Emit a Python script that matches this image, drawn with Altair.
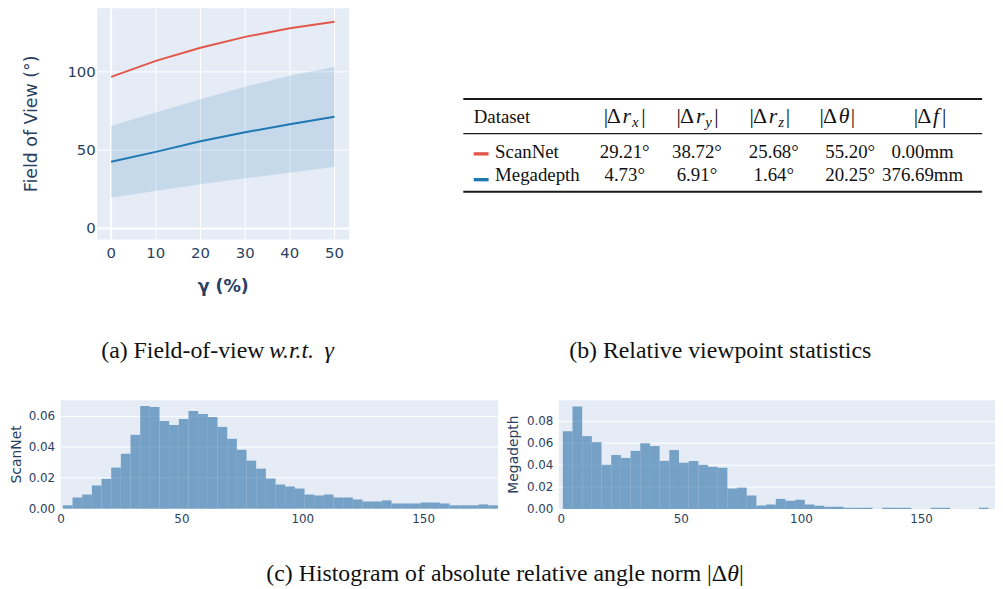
import altair as alt
import pandas as pd

# ======================= DATA =======================
# (a) Field of view w.r.t. gamma
gamma_pct = [0, 10, 20, 30, 40, 50]
fov_scannet = [96.8, 107.0, 115.4, 122.3, 127.8, 132.0]
fov_megadepth_mean = [42.6, 48.9, 55.7, 61.4, 66.6, 71.3]
fov_megadepth_low = [19.8, 24.0, 28.3, 32.0, 35.6, 39.4]
fov_megadepth_high = [65.4, 74.0, 82.5, 90.5, 97.5, 103.2]
fov_x_ticks = [0, 10, 20, 30, 40, 50]
fov_y_ticks = [0, 50, 100]
fov_x_title = "γ (%)"
fov_y_title = "Field of View (°)"

# (b) Relative viewpoint statistics
datasets = ["ScanNet", "Megadepth"]
dataset_colors = ["#e3574a", "#1f77b4"]
stat_rx = ["29.21°", "4.73°"]
stat_ry = ["38.72°", "6.91°"]
stat_rz = ["25.68°", "1.64°"]
stat_theta = ["55.20°", "20.25°"]
stat_f = ["0.00mm", "376.69mm"]
first_header = ["Dataset"]

# (c) Histograms of |Δθ|
scannet_density = [0.0022, 0.0073, 0.0092, 0.0151, 0.0194, 0.0267, 0.0357, 0.0480, 0.0667, 0.0660,
                   0.0570, 0.0544, 0.0583, 0.0634, 0.0615, 0.0596, 0.0531, 0.0454, 0.0383, 0.0312,
                   0.0260, 0.0196, 0.0157, 0.0144, 0.0131, 0.0092, 0.0086, 0.0092, 0.0073, 0.0073,
                   0.0060, 0.0047, 0.0047, 0.0054, 0.0034, 0.0034, 0.0034, 0.0040, 0.0040, 0.0034,
                   0.0022, 0.0022, 0.0022, 0.0028, 0.0022]
scannet_bin_start, scannet_bin_width = 0.74, 4.0
megadepth_density = [0.0710, 0.0935, 0.0665, 0.0610, 0.0403, 0.0493, 0.0466, 0.0530, 0.0600, 0.0574,
                     0.0439, 0.0538, 0.0421, 0.0439, 0.0403, 0.0385, 0.0376, 0.0186, 0.0195, 0.0123,
                     0.0032, 0.0041, 0.0092, 0.0075, 0.0084, 0.0040, 0.0030, 0.0020, 0.0020, 0.0011,
                     0.0011, 0.0011, 0.0, 0.0011, 0.0011, 0.0011, 0.0, 0.0, 0.0011, 0.0011,
                     0.0, 0.0, 0.0, 0.0011]
megadepth_bin_start, megadepth_bin_width = 0.66, 4.03
hist_x_ticks = [0, 50, 100, 150]
scannet_y_ticks = [0, 0.02, 0.04, 0.06]
megadepth_y_ticks = [0, 0.02, 0.04, 0.06, 0.08]

captions = ["(a) Field-of-view ", "w.r.t.", "γ",
            "(b) Relative viewpoint statistics",
            "(c) Histogram of absolute relative angle norm |Δ", "θ", "|"]

# ======================= LAYOUT / STYLE =======================
W, H = 995, 581          # whole canvas (page margin is 8px)
def px(v):               # reference pixel -> chart pixel
    return v - 8
def py(v):
    return v - 8

PLOT_BG = "#E5ECF6"
TXT = "#2a3f5f"
SANS = "DejaVu Sans"
SERIF = "Liberation Serif"
BLUE = "#1f77b4"
RED = dataset_colors[0]


def lin(domain, rng):
    return alt.Scale(domain=domain, range=rng, nice=False, zero=False)


one = pd.DataFrame({"k": [0]})


def background(xs, ys, xdom, ydom):
    return alt.Chart(one).mark_rect(color=PLOT_BG).encode(
        x=alt.X(datum=xdom[0], type="quantitative", scale=xs, axis=None),
        x2=alt.X2(datum=xdom[1]),
        y=alt.Y(datum=ydom[0], type="quantitative", scale=ys, axis=None),
        y2=alt.Y2(datum=ydom[1]),
    )


def x_tick_labels(ticks, xs, ys, ydom, size, pad, fmt):
    return alt.Chart(pd.DataFrame({"t": ticks})).transform_calculate(
        lab=f"format(datum.t, '{fmt}')"
    ).mark_text(font=SANS, fontSize=size, color=TXT, align="center", baseline="top", dy=pad).encode(
        x=alt.X("t:Q", scale=xs, axis=None),
        y=alt.Y(datum=ydom[0], type="quantitative", scale=ys, axis=None),
        text="lab:N",
    )


def y_tick_labels(ticks, xs, ys, xdom, size, pad, fmt):
    return alt.Chart(pd.DataFrame({"t": ticks})).transform_calculate(
        lab=f"format(datum.t, '{fmt}')"
    ).mark_text(font=SANS, fontSize=size, color=TXT, align="right", baseline="middle", dx=-pad).encode(
        y=alt.Y("t:Q", scale=ys, axis=None),
        x=alt.X(datum=xdom[0], type="quantitative", scale=xs, axis=None),
        text="lab:N",
    )


def title_text(text, x, y, size, angle=0, weight="normal"):
    return alt.Chart(pd.DataFrame({"t": [text]})).mark_text(
        font=SANS, fontSize=size, color=TXT, align="center", baseline="middle",
        angle=angle, fontWeight=weight,
    ).encode(x=alt.value(px(x)), y=alt.value(py(y)), text="t:N")


# ---------------- (a) line chart ----------------
A_XDOM = [-3.1, 53.3]
A_YDOM = [-7.0, 140.5]
xa = lin(A_XDOM, [px(98), px(352)])
ya = lin(A_YDOM, [py(239), py(6)])

fov_df = pd.DataFrame({
    "gamma": gamma_pct, "scannet": fov_scannet, "mean": fov_megadepth_mean,
    "low": fov_megadepth_low, "high": fov_megadepth_high,
})
xt_df = pd.DataFrame({"t": fov_x_ticks})
yt_df = pd.DataFrame({"t": fov_y_ticks})


def vrules(width, flt):
    return alt.Chart(xt_df).mark_rule(color="white", strokeWidth=width).encode(
        x=alt.X("t:Q", scale=xa, axis=None),
        y=alt.Y(datum=A_YDOM[0], type="quantitative", scale=ya, axis=None),
        y2=alt.Y2(datum=A_YDOM[1]),
    ).transform_filter(flt)


def hrules(width, flt):
    return alt.Chart(yt_df).mark_rule(color="white", strokeWidth=width).encode(
        y=alt.Y("t:Q", scale=ya, axis=None),
        x=alt.X(datum=A_XDOM[0], type="quantitative", scale=xa, axis=None),
        x2=alt.X2(datum=A_XDOM[1]),
    ).transform_filter(flt)


band = alt.Chart(fov_df).mark_area(color=BLUE, opacity=0.16).encode(
    x=alt.X("gamma:Q", scale=xa, axis=None),
    y=alt.Y("low:Q", scale=ya, axis=None),
    y2="high:Q",
)
line_sn = alt.Chart(fov_df).mark_line(color=RED, strokeWidth=2).encode(
    x=alt.X("gamma:Q", scale=xa, axis=None),
    y=alt.Y("scannet:Q", scale=ya, axis=None),
)
line_md = alt.Chart(fov_df).mark_line(color=BLUE, strokeWidth=2).encode(
    x=alt.X("gamma:Q", scale=xa, axis=None),
    y=alt.Y("mean:Q", scale=ya, axis=None),
)
panel_a = alt.layer(
    background(xa, ya, A_XDOM, A_YDOM),
    vrules(1, "datum.t != 0"), hrules(1, "datum.t != 0"),
    vrules(2, "datum.t == 0"), hrules(2, "datum.t == 0"),
    band, line_sn, line_md,
    x_tick_labels(fov_x_ticks, xa, ya, A_YDOM, 15, 6.5, "d"),
    y_tick_labels(fov_y_ticks, xa, ya, A_XDOM, 15, 1.5, "d"),
    title_text(fov_x_title, 225, 287, 17.5, weight="bold"),
    title_text(fov_y_title, 32, 122.5, 17.5, angle=270),
)


# ---------------- (c) histograms ----------------
def hist_panel(values, start, width, x_rng, x_dom, y_rng, y_dom, y_ticks, title, title_x):
    df = pd.DataFrame({"lo": [start + i * width for i in range(len(values))],
                       "density": values})
    df["hi"] = df["lo"] + width
    xs = lin(x_dom, [px(x_rng[0]), px(x_rng[1])])
    ys = lin(y_dom, [py(y_rng[0]), py(y_rng[1])])
    grid = alt.Chart(pd.DataFrame({"t": y_ticks})).mark_rule(color="white", strokeWidth=1).encode(
        y=alt.Y("t:Q", scale=ys, axis=None),
        x=alt.X(datum=x_dom[0], type="quantitative", scale=xs, axis=None),
        x2=alt.X2(datum=x_dom[1]),
    ).transform_filter("datum.t != 0")
    bars = alt.Chart(df).mark_rect(color="steelblue", opacity=0.7).encode(
        x=alt.X("lo:Q", scale=xs, axis=None),
        x2="hi:Q",
        y=alt.Y("density:Q", scale=ys, axis=None),
        y2=alt.Y2(datum=0),
    )
    return alt.layer(
        background(xs, ys, x_dom, y_dom), grid, bars,
        x_tick_labels(hist_x_ticks, xs, ys, y_dom, 12, 5.5, "d"),
        y_tick_labels(y_ticks, xs, ys, x_dom, 12, 5.5, ".2f"),
        title_text(title, title_x, (y_rng[0] + y_rng[1]) / 2, 14, angle=270),
    )


hist_sn = hist_panel(scannet_density, scannet_bin_start, scannet_bin_width,
                     [61, 502], [-0.2, 180.8], [510.4, 401], [0, 0.0705],
                     scannet_y_ticks, datasets[0], 17)
hist_md = hist_panel(megadepth_density, megadepth_bin_start, megadepth_bin_width,
                     [563.3, 1003], [-1.0, 180.6], [510.7, 401], [0, 0.0993],
                     megadepth_y_ticks, datasets[1], 518.5)

# ---------------- (b) table ----------------
# layout grid (reference pixels): x = rule-left, swatch-left, swatch-right, name-left,
# 5 value columns, rule-right; y = top rule, header, mid rule, swatch1, row1, swatch2, row2, bottom rule
TX_REF = [467, 477.5, 492.5, 499, 629.7, 702.5, 780, 857, 930, 990]
TY_REF = [97.3, 121.3, 132.3, 152.7, 156.7, 178.7, 180.2, 191]
tx = alt.Scale(domain=list(range(len(TX_REF))), range=[px(v) for v in TX_REF], nice=False, zero=False)
ty = alt.Scale(domain=list(range(len(TY_REF))), range=[py(v) for v in TY_REF], nice=False, zero=False)
ROW_Y = [4, 6]
SWATCH_Y = [3, 5]
COL_X0 = 4
TFONT = 19


def TX(v):
    return alt.X(datum=v, type="quantitative", scale=tx, axis=None)


def TY(v):
    return alt.Y(datum=v, type="quantitative", scale=ty, axis=None)


value_cols = [stat_rx, stat_ry, stat_rz, stat_theta, stat_f]
cells = pd.DataFrame([
    {"cx": COL_X0 + c, "ry": ROW_Y[r], "text": col[r]}
    for r in range(len(datasets)) for c, col in enumerate(value_cols)
])
names = pd.DataFrame({"dataset": datasets, "ry": ROW_Y, "sy": SWATCH_Y})

rules = []
for yi, sw in [(0, 2.0), (2, 1.2), (7, 2.0)]:
    rules.append(alt.Chart(one).mark_rule(color="#1a1a1a", strokeWidth=sw).encode(
        x=TX(0), x2=alt.X2(datum=9), y=TY(yi)))

swatches = alt.Chart(names).mark_rule(strokeWidth=3.4).encode(
    x=TX(1), x2=alt.X2(datum=2),
    y=alt.Y("sy:Q", scale=ty, axis=None),
    color=alt.Color("dataset:N", scale=alt.Scale(domain=datasets, range=dataset_colors), legend=None),
)
name_text = alt.Chart(names).mark_text(align="left", baseline="alphabetic", font=SERIF,
                                       fontSize=TFONT, color="#111").encode(
    x=TX(3), y=alt.Y("ry:Q", scale=ty, axis=None), text="dataset:N")
value_text = alt.Chart(cells).mark_text(align="center", baseline="alphabetic", font=SERIF,
                                        fontSize=TFONT, color="#111").encode(
    x=alt.X("cx:Q", scale=tx, axis=None), y=alt.Y("ry:Q", scale=ty, axis=None), text="text:N")
header0 = alt.Chart(pd.DataFrame({"h": first_header})).mark_text(
    align="left", baseline="alphabetic", font=SERIF, fontSize=TFONT, color="#111").encode(
    x=TX(1), y=TY(1), text="h:N")

# math headers |Δr_x| ... : (text, style, left edge in reference px)
math_headers = [
    [("|", "n", 608.5), ("Δ", "n", 611.5), ("r", "i", 627.5), ("x", "s", 637), ("|", "n", 646.5)],
    [("|", "n", 682), ("Δ", "n", 685.5), ("r", "i", 701.5), ("y", "s", 711), ("|", "n", 720)],
    [("|", "n", 755.5), ("Δ", "n", 759), ("r", "i", 775), ("z", "s", 784.5), ("|", "n", 792)],
    [("|", "n", 826), ("Δ", "n", 829.5), ("θ", "i", 845.5), ("|", "n", 857.5)],
    [("|", "n", 921), ("Δ", "n", 924.5), ("f", "i", 940.5), ("|", "n", 949.5)],
]
seg_size = {"n": 22, "i": 22, "s": 15}
header_layers = []
for c, segs in enumerate(math_headers):
    col = COL_X0 + c
    for text, style, left in segs:
        header_layers.append(
            alt.Chart(pd.DataFrame({"t": [text]})).mark_text(
                align="left", baseline="alphabetic", font=SERIF, color="#111",
                fontSize=seg_size[style],
                fontStyle="italic" if style in ("i", "s") else "normal",
                dx=left - TX_REF[col], dy=4 if style == "s" else 0,
            ).encode(x=TX(col), y=TY(1), text="t:N")
        )

table = alt.layer(*rules, swatches, name_text, value_text, header0, *header_layers)

# ---------------- captions ----------------
cap_df = pd.DataFrame({"t": captions})


def cap(i, x, y, align="left", italic=False):
    return alt.Chart(cap_df).transform_filter(f"datum.t == {captions[i]!r}").mark_text(
        align=align, baseline="alphabetic", font=SERIF, fontSize=24, color="#111",
        fontStyle="italic" if italic else "normal",
    ).encode(x=alt.value(px(x)), y=alt.value(py(y)), text="t:N")


caption_layer = alt.layer(
    cap(0, 102, 358),
    cap(1, 271, 358, italic=True),
    cap(2, 327, 358, italic=True),
    cap(3, 726, 358, align="center"),
    cap(4, 733, 583, align="right"),
    cap(5, 733, 583, italic=True),
    cap(6, 745, 583),
)

chart = alt.layer(panel_a, table, hist_sn, hist_md, caption_layer).resolve_scale(
    x="independent", y="independent", color="independent"
).properties(
    width=W, height=H, padding=0, autosize=alt.AutoSizeParams(type="none")
).configure_view(strokeWidth=0)

chart.save("out.html", embed_options={"renderer": "svg", "actions": False})
